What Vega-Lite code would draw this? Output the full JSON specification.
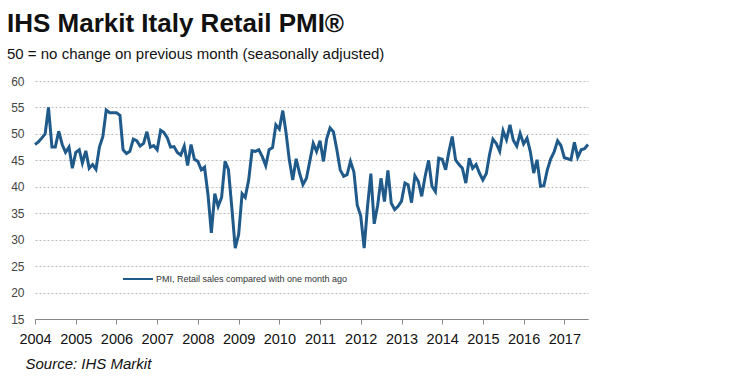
{
  "$schema": "https://vega.github.io/schema/vega-lite/v6.json",
  "width": 553,
  "height": 238,
  "autosize": {"type": "none"},
  "padding": {"left": 35, "top": 81, "right": 162, "bottom": 58},
  "background": "white",
  "title": {
    "text": "IHS Markit Italy Retail PMI®",
    "subtitle": "50 = no change on previous month (seasonally adjusted)",
    "anchor": "start",
    "frame": "group",
    "font": "Liberation Sans",
    "fontSize": 26,
    "fontWeight": "bold",
    "color": "#111111",
    "subtitleFont": "Liberation Sans",
    "subtitleFontSize": 15,
    "subtitleColor": "#111111",
    "subtitlePadding": 10,
    "dx": -28,
    "offset": 13
  },
  "config": {
    "view": {"stroke": null},
    "font": "Liberation Sans"
  },
  "data": {
    "values": [
      {"date": "2004-01-01", "v": 48}, {"date": "2004-02-01", "v": 48.5}, {"date": "2004-03-01", "v": 49.2}, {"date": "2004-04-01", "v": 50}, {"date": "2004-05-01", "v": 55}, {"date": "2004-06-01", "v": 47.5}, {"date": "2004-07-01", "v": 47.5}, {"date": "2004-08-01", "v": 50.5}, {"date": "2004-09-01", "v": 48}, {"date": "2004-10-01", "v": 46.5}, {"date": "2004-11-01", "v": 47.5}, {"date": "2004-12-01", "v": 43.5},
      {"date": "2005-01-01", "v": 46.5}, {"date": "2005-02-01", "v": 47}, {"date": "2005-03-01", "v": 44.5}, {"date": "2005-04-01", "v": 46.8}, {"date": "2005-05-01", "v": 43.5}, {"date": "2005-06-01", "v": 44.2}, {"date": "2005-07-01", "v": 43.3}, {"date": "2005-08-01", "v": 47.5}, {"date": "2005-09-01", "v": 49.5}, {"date": "2005-10-01", "v": 54.5}, {"date": "2005-11-01", "v": 54}, {"date": "2005-12-01", "v": 54},
      {"date": "2006-01-01", "v": 54}, {"date": "2006-02-01", "v": 53.5}, {"date": "2006-03-01", "v": 47}, {"date": "2006-04-01", "v": 46.3}, {"date": "2006-05-01", "v": 46.7}, {"date": "2006-06-01", "v": 49}, {"date": "2006-07-01", "v": 48.7}, {"date": "2006-08-01", "v": 47.7}, {"date": "2006-09-01", "v": 48.2}, {"date": "2006-10-01", "v": 50.4}, {"date": "2006-11-01", "v": 47.5}, {"date": "2006-12-01", "v": 47.8},
      {"date": "2007-01-01", "v": 47}, {"date": "2007-02-01", "v": 50.7}, {"date": "2007-03-01", "v": 50.3}, {"date": "2007-04-01", "v": 49.3}, {"date": "2007-05-01", "v": 47.5}, {"date": "2007-06-01", "v": 47.6}, {"date": "2007-07-01", "v": 46.5}, {"date": "2007-08-01", "v": 46}, {"date": "2007-09-01", "v": 47.7}, {"date": "2007-10-01", "v": 44}, {"date": "2007-11-01", "v": 48}, {"date": "2007-12-01", "v": 45.2},
      {"date": "2008-01-01", "v": 44.8}, {"date": "2008-02-01", "v": 43.2}, {"date": "2008-03-01", "v": 43.7}, {"date": "2008-04-01", "v": 38.5}, {"date": "2008-05-01", "v": 31.3}, {"date": "2008-06-01", "v": 38.7}, {"date": "2008-07-01", "v": 36.3}, {"date": "2008-08-01", "v": 38}, {"date": "2008-09-01", "v": 44.8}, {"date": "2008-10-01", "v": 43.3}, {"date": "2008-11-01", "v": 36}, {"date": "2008-12-01", "v": 28.4},
      {"date": "2009-01-01", "v": 31}, {"date": "2009-02-01", "v": 38.7}, {"date": "2009-03-01", "v": 38}, {"date": "2009-04-01", "v": 41.3}, {"date": "2009-05-01", "v": 46.8}, {"date": "2009-06-01", "v": 46.7}, {"date": "2009-07-01", "v": 47}, {"date": "2009-08-01", "v": 45.7}, {"date": "2009-09-01", "v": 44}, {"date": "2009-10-01", "v": 47}, {"date": "2009-11-01", "v": 47.4}, {"date": "2009-12-01", "v": 51.7},
      {"date": "2010-01-01", "v": 50.9}, {"date": "2010-02-01", "v": 54.4}, {"date": "2010-03-01", "v": 50.4}, {"date": "2010-04-01", "v": 45}, {"date": "2010-05-01", "v": 41.3}, {"date": "2010-06-01", "v": 45.3}, {"date": "2010-07-01", "v": 42.6}, {"date": "2010-08-01", "v": 40.4}, {"date": "2010-09-01", "v": 41.6}, {"date": "2010-10-01", "v": 44.8}, {"date": "2010-11-01", "v": 48.2}, {"date": "2010-12-01", "v": 46.7},
      {"date": "2011-01-01", "v": 48.7}, {"date": "2011-02-01", "v": 44.8}, {"date": "2011-03-01", "v": 49}, {"date": "2011-04-01", "v": 51.1}, {"date": "2011-05-01", "v": 50.4}, {"date": "2011-06-01", "v": 47}, {"date": "2011-07-01", "v": 43.2}, {"date": "2011-08-01", "v": 42}, {"date": "2011-09-01", "v": 42.3}, {"date": "2011-10-01", "v": 44.8}, {"date": "2011-11-01", "v": 42.8}, {"date": "2011-12-01", "v": 36.5},
      {"date": "2012-01-01", "v": 34.5}, {"date": "2012-02-01", "v": 28.4}, {"date": "2012-03-01", "v": 36}, {"date": "2012-04-01", "v": 42.5}, {"date": "2012-05-01", "v": 33}, {"date": "2012-06-01", "v": 36.5}, {"date": "2012-07-01", "v": 41.6}, {"date": "2012-08-01", "v": 37.2}, {"date": "2012-09-01", "v": 43.1}, {"date": "2012-10-01", "v": 36.9}, {"date": "2012-11-01", "v": 35.7}, {"date": "2012-12-01", "v": 36.3},
      {"date": "2013-01-01", "v": 37.3}, {"date": "2013-02-01", "v": 40.7}, {"date": "2013-03-01", "v": 40.4}, {"date": "2013-04-01", "v": 37}, {"date": "2013-05-01", "v": 42.1}, {"date": "2013-06-01", "v": 41}, {"date": "2013-07-01", "v": 38.2}, {"date": "2013-08-01", "v": 42}, {"date": "2013-09-01", "v": 45}, {"date": "2013-10-01", "v": 40.1}, {"date": "2013-11-01", "v": 39.1}, {"date": "2013-12-01", "v": 45.4},
      {"date": "2014-01-01", "v": 45.2}, {"date": "2014-02-01", "v": 43.2}, {"date": "2014-03-01", "v": 46.5}, {"date": "2014-04-01", "v": 49.5}, {"date": "2014-05-01", "v": 45.1}, {"date": "2014-06-01", "v": 44.2}, {"date": "2014-07-01", "v": 43.5}, {"date": "2014-08-01", "v": 40.7}, {"date": "2014-09-01", "v": 45.4}, {"date": "2014-10-01", "v": 43.5}, {"date": "2014-11-01", "v": 44.2}, {"date": "2014-12-01", "v": 42.6},
      {"date": "2015-01-01", "v": 41.3}, {"date": "2015-02-01", "v": 42.5}, {"date": "2015-03-01", "v": 46}, {"date": "2015-04-01", "v": 49}, {"date": "2015-05-01", "v": 48.2}, {"date": "2015-06-01", "v": 46.7}, {"date": "2015-07-01", "v": 50.6}, {"date": "2015-08-01", "v": 48.9}, {"date": "2015-09-01", "v": 51.7}, {"date": "2015-10-01", "v": 48.8}, {"date": "2015-11-01", "v": 47.7}, {"date": "2015-12-01", "v": 50.1},
      {"date": "2016-01-01", "v": 48.1}, {"date": "2016-02-01", "v": 49.2}, {"date": "2016-03-01", "v": 46.7}, {"date": "2016-04-01", "v": 42.6}, {"date": "2016-05-01", "v": 45.1}, {"date": "2016-06-01", "v": 40.1}, {"date": "2016-07-01", "v": 40.2}, {"date": "2016-08-01", "v": 43.2}, {"date": "2016-09-01", "v": 45.3}, {"date": "2016-10-01", "v": 46.6}, {"date": "2016-11-01", "v": 48.7}, {"date": "2016-12-01", "v": 47.8},
      {"date": "2017-01-01", "v": 45.5}, {"date": "2017-02-01", "v": 45.3}, {"date": "2017-03-01", "v": 45.1}, {"date": "2017-04-01", "v": 48.4}, {"date": "2017-05-01", "v": 45.6}, {"date": "2017-06-01", "v": 47}, {"date": "2017-07-01", "v": 47.2}, {"date": "2017-08-01", "v": 48}
    ]
  },
  "mark": {"type": "line", "strokeWidth": 3, "strokeJoin": "miter", "clip": false},
  "encoding": {
    "x": {
      "field": "date",
      "type": "temporal",
      "scale": {"type": "utc", "domain": ["2004-01-01", "2017-08-01"], "nice": false},
      "axis": {
        "title": "Source: IHS Markit",
        "titleFont": "Liberation Sans",
        "titleFontSize": 15,
        "titleFontStyle": "italic",
        "titleFontWeight": "normal",
        "titleColor": "#111111",
        "titleAnchor": "start",
        "titleAlign": "left",
        "titleBaseline": "alphabetic",
        "titleX": -10,
        "titleY": 49,
        "format": "%Y",
        "formatType": "utc",
        "tickCount": {"interval": "year", "step": 1},
        "grid": false,
        "domainColor": "#888888",
        "domainWidth": 1,
        "tickColor": "#888888",
        "tickSize": 5,
        "labelFontSize": 14.5,
        "labelColor": "#111111",
        "labelPadding": 8,
        "labelAngle": 0,
        "labelOverlap": false,
        "labelFlush": false
      }
    },
    "y": {
      "field": "v",
      "type": "quantitative",
      "scale": {"domain": [15, 60], "nice": false, "zero": false},
      "axis": {
        "title": null,
        "values": [15, 20, 25, 30, 35, 40, 45, 50, 55, 60],
        "domain": false,
        "ticks": false,
        "grid": true,
        "gridColor": "#bbbbbb",
        "gridDash": [2, 2],
        "gridWidth": 1,
        "labelFontSize": 12,
        "labelColor": "#444444",
        "labelPadding": 11
      }
    },
    "color": {
      "datum": "PMI, Retail sales compared with one month ago",
      "type": "nominal",
      "scale": {"range": ["#1f5a8a"]},
      "legend": {
        "title": null,
        "orient": "none",
        "legendX": 87,
        "legendY": 182,
        "padding": 0,
        "symbolType": "stroke",
        "symbolSize": 900,
        "symbolStrokeWidth": 2,
        "labelFontSize": 9,
        "labelColor": "#333333",
        "labelOffset": 2,
        "labelLimit": 0
      }
    }
  }
}
